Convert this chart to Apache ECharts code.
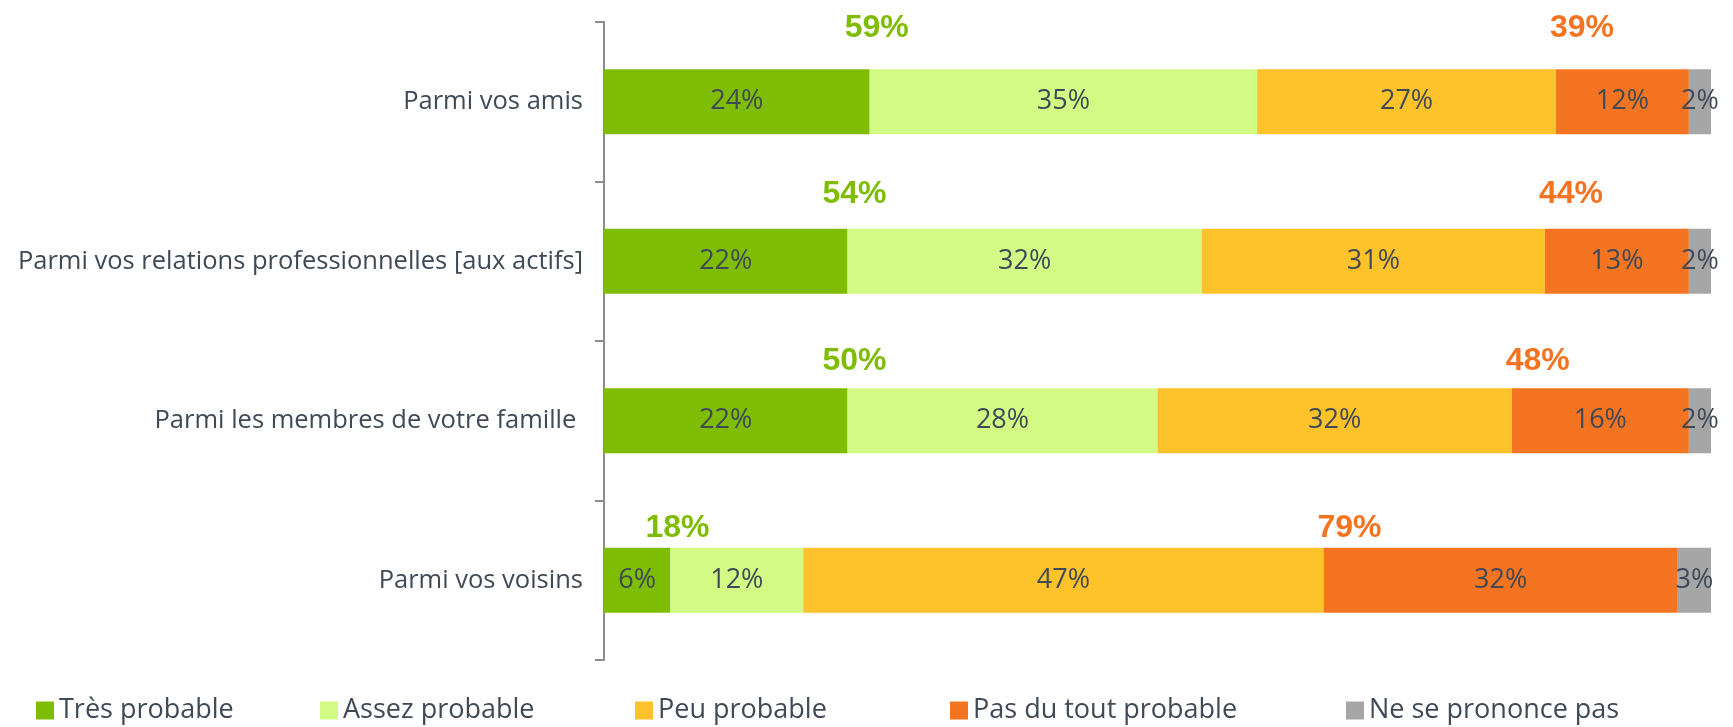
<!DOCTYPE html>
<html>
<head>
<meta charset="utf-8">
<script src="https://cdn.jsdelivr.net/npm/echarts@6/dist/echarts.min.js"></script>
<style>
  html, body { margin: 0; padding: 0; background: #fff; }
  #chart { width: 1733px; height: 727px; }
</style>
</head>
<body>
<div id="chart"></div>
<script>
// --- data ---
const categories = [
  'Parmi vos amis',
  'Parmi vos relations professionnelles [aux actifs]',
  'Parmi les membres de votre famille ',
  'Parmi vos voisins',
]
const seriesNames = ['Très probable', 'Assez probable', 'Peu probable', 'Pas du tout probable', 'Ne se prononce pas']
const tresProbable = [24, 22, 22, 6]
const assezProbable = [35, 32, 28, 12]
const peuProbable = [27, 31, 32, 47]
const pasDuToutProbable = [12, 13, 16, 32]
const neSePrononcePas = [2, 2, 2, 3]
// totaux affichés au-dessus des barres
const totalProbable = [59, 54, 50, 18]
const totalPasProbable = [39, 44, 48, 79]

// --- style ---
const colors = ['#7fbd05', '#d4fa86', '#fec22a', '#f47421', '#a6a6a6']
const textColor = '#3f4a56'
const font = 'Open Sans'
const legendLeft = [36, 320, 635, 950, 1346]

const values = [tresProbable, assezProbable, peuProbable, pasDuToutProbable, neSePrononcePas]

const barSeries = seriesNames.map((name, k) => ({
  name,
  type: 'bar',
  stack: 'total',
  barWidth: 65,
  itemStyle: { color: colors[k] },
  label: {
    show: true,
    position: 'inside',
    color: textColor,
    fontFamily: font,
    fontSize: 27,
    formatter: '{c}%',
  },
  emphasis: { disabled: true },
  data: values[k],
}))

// position du total = fin du segment "très probable" / début du segment "pas du tout"
const totalSeries = (xs, totals, color, dx) => ({
  type: 'scatter',
  symbolSize: 0,
  silent: true,
  z: 5,
  itemStyle: { opacity: 1 },
  data: xs.map((x, i) => ({
    value: [x, i],
    label: { offset: [dx, -(74 - 7.3 * i)] },
  })),
  label: {
    show: true,
    position: 'inside',
    color,
    opacity: 1,
    fontFamily: 'Liberation Sans',
    fontWeight: 'bold',
    fontSize: 32,
    formatter: (p) => totals[p.dataIndex] + '%',
  },
})

const orangeStart = peuProbable.map((v, i) => tresProbable[i] + assezProbable[i] + v)

const option = {
  animation: false,
  grid: { left: 604, right: 22, top: 22, bottom: 67 },
  legend: seriesNames.map((name, k) => ({
    data: [name],
    left: legendLeft[k],
    top: 697,
    padding: 0,
    icon: 'rect',
    itemWidth: 18,
    itemHeight: 18,
    selectedMode: false,
    textStyle: { color: textColor, fontFamily: font, fontSize: 27 },
  })),
  xAxis: { type: 'value', min: 0, max: 100, show: false },
  yAxis: {
    type: 'category',
    inverse: true,
    data: categories,
    axisLine: { show: true, lineStyle: { color: '#8c8c8c', width: 2 } },
    axisTick: { show: true, length: 9, lineStyle: { color: '#8c8c8c', width: 2 } },
    axisLabel: { color: textColor, fontFamily: font, fontSize: 25.5, margin: 21 },
  },
  series: [
    ...barSeries,
    totalSeries(tresProbable, totalProbable, '#7fbd05', 7),
    totalSeries(orangeStart, totalPasProbable, '#f47421', 26),
  ],
}

const chart = echarts.init(document.getElementById('chart'))
chart.setOption(option)
window.addEventListener('resize', () => chart.resize())
</script>
</body>
</html>
